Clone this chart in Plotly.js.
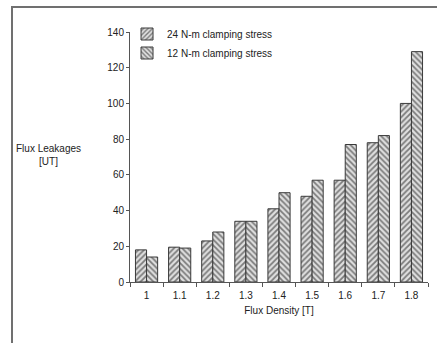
<!DOCTYPE html>
<html><head><meta charset="utf-8">
<script src="https://cdn.plot.ly/plotly-3.0.1.min.js"></script>
<style>
body{margin:0;padding:0;background:#fff;}
#chart{position:absolute;left:0;top:0;width:437px;height:343px;}
#frame{position:absolute;left:11px;top:6px;width:440px;height:350px;border:2px solid #707070;pointer-events:none;}
</style></head>
<body>
<div id="chart"></div>
<div id="frame"></div>
<script>
const categories = ["1","1.1","1.2","1.3","1.4","1.5","1.6","1.7","1.8"];
const series24 = [18, 19.5, 23, 34, 41, 48, 57, 78, 100];
const series12 = [14, 19, 28, 34, 50, 57, 77, 82, 129];
const seriesNames = ["24 N-m clamping stress","12 N-m clamping stress"];
const yTicks = [0,20,40,60,80,100,120,140];

const fnt = "Liberation Sans, Arial, sans-serif";
function mk(name, y, shape){
  return {type:'bar', name:name, x:categories, y:y,
    marker:{color:'#e0e0e0', line:{color:'#3a3a3a', width:1},
      pattern:{shape:shape, bgcolor:'#e0e0e0', fgcolor:'#7a7a7a', size:4, solidity:0.45}}};
}
const data = [mk(seriesNames[0], series24, '/'), mk(seriesNames[1], series12, '\\')];
const layout = {
  width:437, height:343,
  margin:{l:130, r:9, t:32, b:61},
  paper_bgcolor:'#fff', plot_bgcolor:'#fff',
  font:{family:fnt, size:10, color:'#222'},
  bargap:0.33, bargroupgap:0,
  showlegend:true,
  legend:{x:-0.01, y:1.05, xanchor:'left', yanchor:'top', bgcolor:'rgba(0,0,0,0)',
    font:{family:fnt, size:10, color:'#222'}, itemwidth:30, tracegroupgap:0},
  xaxis:{type:'category', showline:true, linecolor:'#555', linewidth:1,
    ticks:'outside', ticklen:4, tickcolor:'#555', tickson:'boundaries', ticklabelstandoff:4,
    showgrid:false, zeroline:false, tickfont:{family:fnt, size:10},
    title:{text:'Flux Density [T]', font:{family:fnt, size:10}, standoff:6}},
  yaxis:{range:[0,140], tickvals:yTicks, showline:true, linecolor:'#555', linewidth:1,
    ticks:'outside', ticklen:3, tickcolor:'#555', showgrid:false, zeroline:false,
    tickfont:{family:fnt, size:10}},
  annotations:[{xref:'paper', yref:'paper', x:-0.275, y:0.51, xanchor:'center', yanchor:'middle',
    text:'Flux Leakages<br>[UT]', showarrow:false, align:'center', font:{family:fnt, size:10, color:'#222'}}]
};
Plotly.newPlot('chart', data, layout, {displayModeBar:false, staticPlot:true});
</script>
</body></html>
